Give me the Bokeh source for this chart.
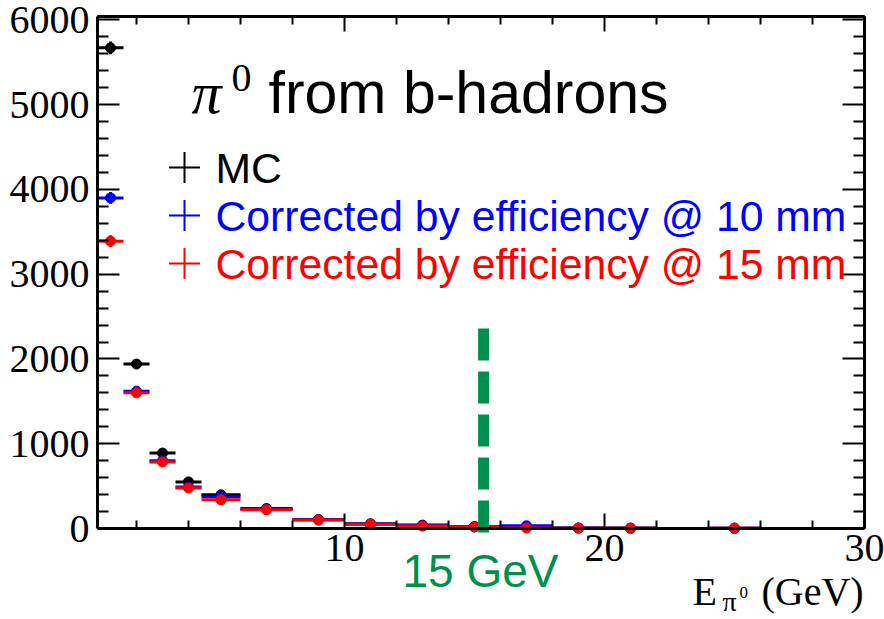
from bokeh.plotting import figure
from bokeh.models import Range1d, LinearAxis, FixedTicker, Label
from bokeh.embed import file_html
from bokeh.resources import INLINE

# ---- data ----
bin_lo = [0.5, 1.5, 2.5, 3.5, 4.5, 6, 8, 10, 12, 14, 16, 18, 20, 24]
bin_hi = [1.5, 2.5, 3.5, 4.5, 6, 8, 10, 12, 14, 16, 18, 20, 22, 26]
mc_vals = [5670, 1940, 890, 550, 398, 235, 105, 55, 40, 22, 18, 6, 5, 4]
mc_errs = [75, 44, 30, 24, 20, 15, 10, 7, 6, 5, 4, 2, 2, 2]
eff10_vals = [3900, 1620, 800, 490, 374, 228, 102, 52, 32, 20, 32, 5, 4, 4]
eff10_errs = [70, 45, 32, 26, 22, 17, 11, 8, 6, 5, 6, 2, 2, 2]
eff15_vals = [3390, 1600, 785, 478, 338, 220, 100, 50, 29, 18, 6, 4, 3, 3]
eff15_errs = [68, 46, 33, 27, 23, 17, 11, 8, 6, 5, 3, 2, 2, 2]
series_names = ["MC", "Corrected by efficiency @ 10 mm", "Corrected by efficiency @ 15 mm"]
series_colors = ["black", "#0000ff", "#ff0000"]
x_ticks = [10, 20, 30]
x_minor = [2, 4, 6, 8, 12, 14, 16, 18, 22, 24, 26, 28]
y_ticks = [0, 1000, 2000, 3000, 4000, 5000, 6000]
y_minor = [v for v in range(200, 6040, 200) if v % 1000 != 0]
cut_energy = 15.35
cut_top = 2360

# ---- layout helpers (axes box in canvas pixels) ----
W, H = 884, 619
FL, FR, FT, FB = 97, 864, 16, 528
XMIN, XMAX, YMIN, YMAX = 0.5, 30, 0, 6040


def px(xp):
    return XMIN + (xp - FL) * (XMAX - XMIN) / (FR - FL)


def py(yp):
    return YMIN + (FB - yp) * (YMAX - YMIN) / (FB - FT)


# the plotting frame covers the whole canvas; axes are pinned to the box edges
p = figure(width=W, height=H, x_range=Range1d(px(0), px(W)), y_range=Range1d(py(H), py(0)),
           output_backend="svg", toolbar_location=None,
           min_border_left=0, min_border_right=0, min_border_top=0, min_border_bottom=0)
p.xgrid.visible = False
p.ygrid.visible = False
p.outline_line_color = None
p.background_fill_color = "white"
p.border_fill_color = "white"


def style_axis(ax, ticks, minor, tick_in, minor_in, loc, bounds):
    ax.ticker = FixedTicker(ticks=ticks, minor_ticks=minor)
    ax.fixed_location = loc
    ax.bounds = bounds
    ax.axis_line_width = 3
    ax.axis_line_color = "black"
    ax.major_tick_in = tick_in
    ax.major_tick_out = 0
    ax.minor_tick_in = minor_in
    ax.minor_tick_out = 0
    ax.major_tick_line_width = 2
    ax.minor_tick_line_width = 2
    ax.major_tick_line_color = "black"
    ax.minor_tick_line_color = "black"
    ax.axis_label = None
    ax.major_label_text_font = "Liberation Serif"
    ax.major_label_text_font_size = "40px"
    ax.major_label_text_color = "black"


style_axis(p.xaxis[0], x_ticks, x_minor, 15, 8, YMIN, (XMIN, XMAX))
p.xaxis[0].major_label_standoff = 6
style_axis(p.yaxis[0], y_ticks, y_minor, 22, 11, XMIN, (YMIN, YMAX))
p.yaxis[0].major_label_standoff = 8

# top and right edges: tick marks only (no labels)
top_minor = LinearAxis()
style_axis(top_minor, [], x_minor, 8, 8, YMAX, (XMIN, XMAX))
p.add_layout(top_minor, "above")
top_major = LinearAxis()
style_axis(top_major, [], x_ticks, 15, 15, YMAX, (XMIN, XMAX))
p.add_layout(top_major, "above")
right_minor = LinearAxis()
style_axis(right_minor, [], y_minor, 11, 11, XMAX, (YMIN, YMAX))
p.add_layout(right_minor, "right")
right_major = LinearAxis()
style_axis(right_major, [], y_ticks, 22, 22, XMAX, (YMIN, YMAX))
p.add_layout(right_major, "right")

# ---- data points ----
x_mid = [(a + b) / 2 for a, b in zip(bin_lo, bin_hi)]
for vals, errs, col in [(mc_vals, mc_errs, series_colors[0]),
                        (eff10_vals, eff10_errs, series_colors[1]),
                        (eff15_vals, eff15_errs, series_colors[2])]:
    p.segment(x0=bin_lo, y0=vals, x1=bin_hi, y1=vals, line_color=col, line_width=3)
    p.segment(x0=x_mid, y0=[v - e for v, e in zip(vals, errs)],
              x1=x_mid, y1=[v + e for v, e in zip(vals, errs)], line_color=col, line_width=3)
    p.scatter(x=x_mid, y=vals, size=10, marker="circle", fill_color=col, line_color=col)

# ---- 15 GeV cut line ----
p.segment(x0=[cut_energy], y0=[py(532)], x1=[cut_energy], y1=[cut_top],
          line_color="#008f4c", line_width=11, line_dash="32 11")


def label(xp, yp, text, font, size, color="black", style="normal"):
    p.add_layout(Label(x=px(xp), y=py(yp), text=text, text_font=font,
                       text_font_size=size, text_color=color, text_font_style=style,
                       text_baseline="middle", text_align="left"))


label(402, 570, "15 GeV", "Liberation Sans", "46px", "#008f4c")

# ---- title ----
label(191, 92, "π", "Liberation Serif", "60px", style="italic")
label(231, 77, "0", "Liberation Serif", "40px")
label(268, 92, "from b-hadrons", "Liberation Sans", "59px")

# ---- legend ----
leg_rows = [167, 215, 263]
for name, col, yr in zip(series_names, series_colors, leg_rows):
    p.scatter(x=[px(184)], y=[py(yr)], marker="cross", size=31, line_width=2,
              line_color=col)
    label(215, yr, name, "Liberation Sans", "42.7px", col)

# ---- x-axis title ----
label(692, 591, "E", "Liberation Serif", "40px")
label(722, 601, "π", "Liberation Serif", "28px")
label(739, 592, "0", "Liberation Serif", "17px")
label(761, 591, "(GeV)", "Liberation Serif", "40px")

open("out.html", "w").write(file_html(p, INLINE))
